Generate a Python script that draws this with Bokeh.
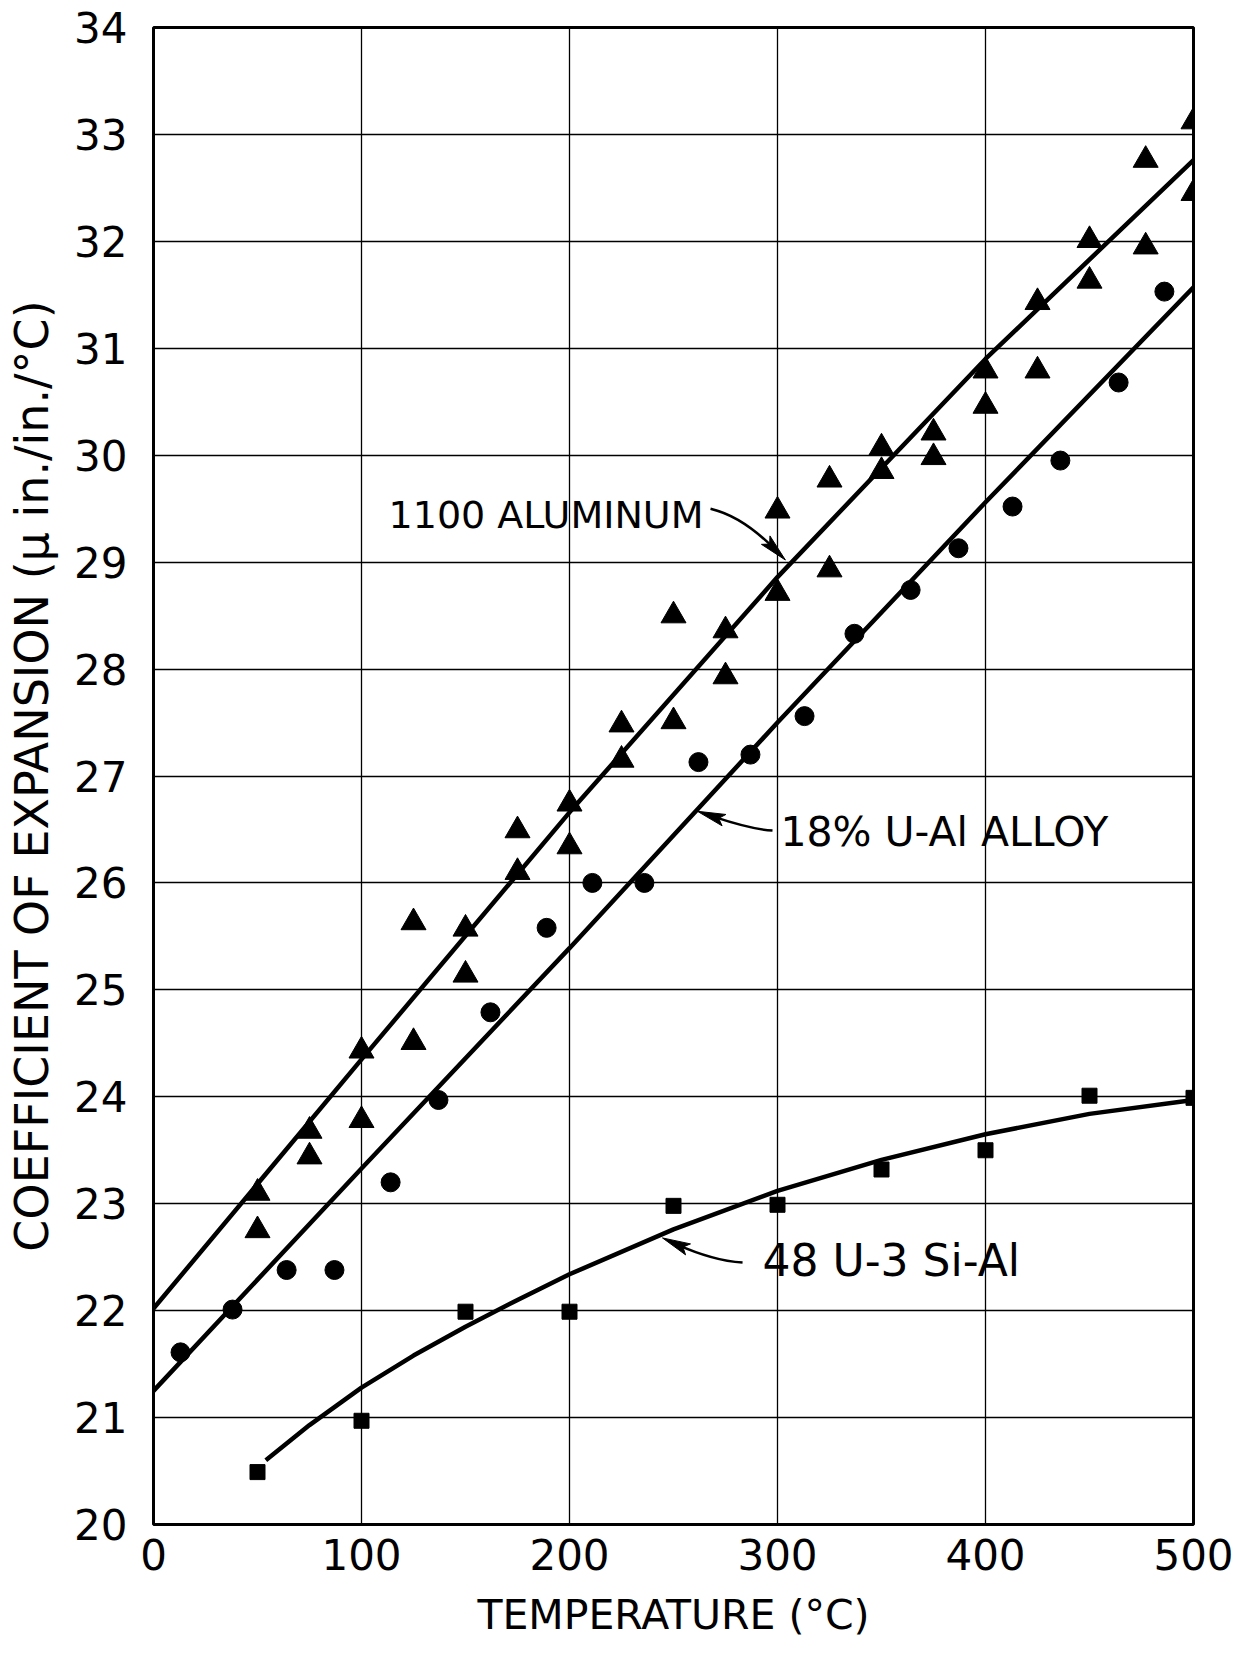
import numpy as np
from bokeh.plotting import figure
from bokeh.models import Range1d, Label, FixedTicker
from bokeh.embed import file_html
from bokeh.resources import INLINE

# ---------------- data ----------------
al_temp = [50, 50, 75, 75, 100, 100, 125, 125, 150, 150, 175, 175, 200, 200,
           225, 225, 250, 250, 275, 275, 300, 300, 325, 325, 350, 350, 375, 375,
           400, 400, 425, 425, 450, 450, 477, 477, 500, 500]
al_coef = [23.10, 22.75, 23.68, 23.44, 24.43, 23.78, 25.63, 24.51, 25.57, 25.14,
           26.49, 26.10, 26.74, 26.34, 27.48, 27.15, 28.50, 27.51, 28.36, 27.93,
           29.48, 28.71, 29.77, 28.93, 30.07, 29.85, 30.21, 29.98, 30.79, 30.46,
           31.43, 30.79, 32.01, 31.63, 32.76, 31.95, 33.12, 32.45]

ual_temp = [13, 38, 64, 87, 114, 137, 162, 189, 211, 236, 262, 287, 313, 337,
            364, 387, 413, 436, 464, 486]
ual_coef = [21.61, 22.01, 22.38, 22.38, 23.20, 23.97, 24.79, 25.58, 26.00, 26.00,
            27.13, 27.20, 27.56, 28.33, 28.74, 29.13, 29.52, 29.95, 30.68, 31.53]

si_temp = [50, 100, 150, 200, 250, 300, 350, 400, 450, 500]
si_coef = [20.49, 20.97, 21.99, 21.99, 22.98, 22.99, 23.32, 23.50, 24.01, 23.99]

# drawn curves
al_fit_t = [0, 100, 200, 300, 400, 500]
al_fit_c = [22.02, 24.35, 26.66, 28.86, 30.90, 32.76]
ual_fit_t = [0, 100, 200, 300, 400, 500]
ual_fit_c = [21.25, 23.33, 25.39, 27.50, 29.56, 31.57]
si_fit_t = [54, 75, 100, 125, 150, 175, 200, 250, 300, 350, 400, 450, 500]
si_fit_c = [20.60, 20.93, 21.28, 21.58, 21.85, 22.10, 22.34, 22.76, 23.12,
            23.41, 23.65, 23.84, 23.97]

x_ticks = [0, 100, 200, 300, 400, 500]
y_ticks = list(range(20, 35))

FONT = "DejaVu Sans"

p = figure(width=1238, height=1659, output_backend="svg", toolbar_location=None,
           x_range=Range1d(0, 500), y_range=Range1d(20, 34),
           min_border_left=153, min_border_right=45, min_border_top=27,
           min_border_bottom=135, background_fill_color="white",
           border_fill_color="white")

p.outline_line_color = "black"
p.outline_line_width = 3

for g in (p.xgrid, p.ygrid):
    g.grid_line_color = "black"
    g.grid_line_width = 1.3
p.xgrid.ticker = FixedTicker(ticks=x_ticks)
p.ygrid.ticker = FixedTicker(ticks=y_ticks)

p.xaxis.ticker = FixedTicker(ticks=x_ticks)
p.yaxis.ticker = FixedTicker(ticks=y_ticks)
for ax in (p.xaxis, p.yaxis):
    ax.axis_line_color = None
    ax.major_tick_line_color = None
    ax.minor_tick_line_color = None
    ax.major_tick_out = 0
    ax.major_tick_in = 0
    ax.major_label_text_font = FONT
    ax.major_label_text_color = "black"
    ax.axis_label_text_font = FONT
    ax.axis_label_text_font_style = "normal"
    ax.axis_label_text_color = "black"

p.xaxis.major_label_text_font_size = "42px"
p.xaxis.major_label_standoff = 14
p.xaxis.axis_label = "TEMPERATURE (°C)"
p.xaxis.axis_label_text_font_size = "41px"
p.xaxis.axis_label_standoff = 18

p.yaxis.major_label_text_font_size = "42px"
p.yaxis.major_label_standoff = 26
p.yaxis.axis_label = "COEFFICIENT OF EXPANSION (μ in./in./°C)"
p.yaxis.axis_label_text_font_size = "46px"
p.yaxis.axis_label_standoff = 12

# fitted curves
LW = 4.5
p.line(al_fit_t, al_fit_c, line_color="black", line_width=LW)
p.line(ual_fit_t, ual_fit_c, line_color="black", line_width=LW)
p.line(si_fit_t, si_fit_c, line_color="black", line_width=LW,
       line_join="round")

# data markers
p.scatter(al_temp, al_coef, marker="triangle", size=25, fill_color="black",
          line_color="black")
p.scatter(ual_temp, ual_coef, marker="circle", size=19, fill_color="black",
          line_color="black")
p.scatter(si_temp, si_coef, marker="square", size=15, fill_color="black",
          line_color="black")

# ---------------- annotations ----------------
XS = 1040 / 500.0   # px per degree
YS = 1497 / 14.0    # px per coefficient unit

labels = [
    dict(text="1100 ALUMINUM", x=113, y=29.44, size="38px"),
    dict(text="18% U-Al ALLOY", x=301.4, y=26.48, size="41px"),
    dict(text="48 U-3 Si-Al", x=292.8, y=22.47, size="44px"),
]
for lb in labels:
    p.add_layout(Label(x=lb["x"], y=lb["y"], text=lb["text"],
                       text_font=FONT, text_font_size=lb["size"],
                       text_baseline="middle", text_align="left",
                       text_color="black"))

arrows = [
    # tail, control, tip
    ((267.8, 29.50), (282.9, 29.43), (303.8, 29.02)),
    ((297.6, 26.49), (287.7, 26.50), (261.5, 26.67)),
    ((283.2, 22.45), (268.8, 22.47), (244.7, 22.68)),
]
HEAD_LEN = 28.0
HEAD_HALF = 6.0
for (tx, ty), (cx, cy), (hx, hy) in arrows:
    dx = (hx - cx) * XS
    dy = (hy - cy) * YS
    n = np.hypot(dx, dy)
    ux, uy = dx / n, dy / n
    px_, py_ = -uy, ux
    bx = -ux * HEAD_LEN
    by = -uy * HEAD_LEN
    pts = [(0, 0),
           (bx + px_ * HEAD_HALF, by + py_ * HEAD_HALF),
           (bx * 0.8, by * 0.8),
           (bx - px_ * HEAD_HALF, by - py_ * HEAD_HALF)]
    xs = [hx + a / XS for a, b in pts]
    ys = [hy + b / YS for a, b in pts]
    ex = hx + bx * 0.6 / XS
    ey = hy + by * 0.6 / YS
    p.quadratic(x0=[tx], y0=[ty], x1=[ex], y1=[ey], cx=[cx], cy=[cy],
                line_color="black", line_width=2.5)
    p.patch(xs, ys, fill_color="black", line_color="black", line_width=1)

open("out.html", "w").write(file_html(p, INLINE))
